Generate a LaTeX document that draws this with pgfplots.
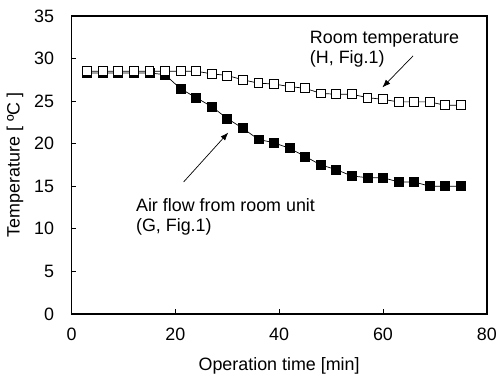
\documentclass[border=0pt]{standalone}
\usepackage{fontspec}
\setmainfont{Liberation Sans}
\usepackage{pgfplots}
\pgfplotsset{compat=1.18}
\usetikzlibrary{arrows.meta}

\begin{document}
\begin{tikzpicture}[font=\fontsize{18bp}{21bp}\selectfont]
\begin{axis}[
  scale only axis,
  width=418bp, height=300bp,
  xmin=0, xmax=80, ymin=0, ymax=35,
  xtick={0,20,40,60,80},
  ytick={0,5,10,15,20,25,30,35},
  tick align=inside,
  xtick pos=bottom, ytick pos=left,
  major tick length=5bp,
  tick style={black, line width=0.6bp},
  axis line style={black, line width=1.6bp},
  /pgf/number format/assume math mode=true,
  ticklabel style={font=\fontsize{18bp}{21bp}\selectfont},
  yticklabel style={xshift=-14bp},
  xticklabel style={yshift=-11bp},
  xlabel={Operation time [min]},
  ylabel={Temperature [ ºC ]},
  xlabel style={at={(axis description cs:0.5,-0.1733)}, anchor=center},
  ylabel style={at={(axis description cs:-0.1364,0.5)}, anchor=center},
  clip=false,
]
\addplot[black, line width=0.7bp, mark=square*, mark size=4.5bp, mark options={solid, fill=black, draw=black}] coordinates {
(3,28.3) (6,28.3) (9,28.3) (12,28.3) (15,28.3) (18,28.1) (21,26.45) (24,25.4)
(27,24.35) (30,22.95) (33,21.8) (36,20.5) (39,20.1) (42,19.45) (45,18.5)
(48,17.5) (51,16.95) (54,16.2) (57,16.0) (60,16.0) (63,15.5) (66,15.5)
(69,15.0) (72,15.0) (75,15.0)
};
\addplot[black, line width=0.7bp, mark=square*, mark size=4.5bp, mark options={solid, fill=white, draw=black, line width=0.8bp}] coordinates {
(3,28.5) (6,28.5) (9,28.5) (12,28.5) (15,28.5) (18,28.5) (21,28.5) (24,28.5)
(27,28.2) (30,28.0) (33,27.5) (36,27.1) (39,27.0) (42,26.7) (45,26.5)
(48,25.9) (51,25.8) (54,25.8) (57,25.4) (60,25.2) (63,24.9) (66,24.9)
(69,24.9) (72,24.5) (75,24.5)
};
\node[anchor=base west, inner sep=0pt] at (axis cs:45.9,31.77) {Room temperature};
\node[anchor=base west, inner sep=0pt] at (axis cs:45.9,29.46) {(H, Fig.1)};
\node[anchor=base west, inner sep=0pt] at (axis cs:12.4,11.98) {Air flow from room unit};
\node[anchor=base west, inner sep=0pt] at (axis cs:12.4,9.72) {(G, Fig.1)};
\draw[black, line width=0.7bp, -{Latex[length=8bp,width=6bp]}] (axis cs:65.8,30.3) -- (axis cs:59.9,26.6);
\draw[black, line width=0.7bp, -{Latex[length=8bp,width=6bp]}] (axis cs:21.6,15.5) -- (axis cs:30.2,21.3);
\end{axis}
\path ([shift={(-72bp,-62bp)}]current axis.south west) rectangle ([shift={(10bp,16bp)}]current axis.north east);
\end{tikzpicture}
\end{document}
